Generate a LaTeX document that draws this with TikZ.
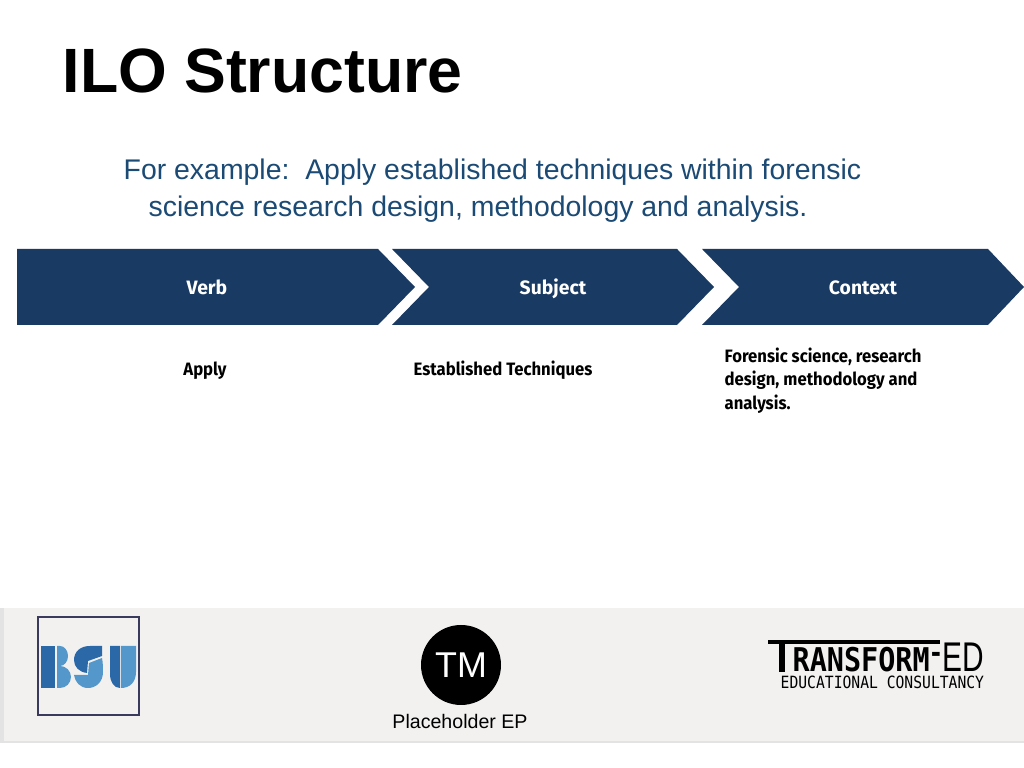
\documentclass[tikz,border=0pt]{standalone}
\usepackage{fontspec}
\setmainfont{Liberation Sans}
\newfontfamily\labelfont{Fira Sans}
\newfontfamily\cellfont[FakeStretch=.93]{Fira Sans}
\newfontfamily\logofont[FakeStretch=.87]{DejaVu Sans Mono}
\newfontfamily\edfont[FakeStretch=.72]{Liberation Sans}
\definecolor{chevblue}{HTML}{193A63}
\definecolor{textblue}{HTML}{1B4A75}
\definecolor{footgrey}{HTML}{F2F1F0}
\definecolor{bsudark}{HTML}{2B68A8}
\definecolor{bsulight}{HTML}{5497CB}
\definecolor{bsuframe}{HTML}{3A3A5C}
\tikzset{
  titletext/.style={anchor=base west,inner sep=0,font=\fontsize{17.8}{20}\selectfont\bfseries},
  bodytext/.style={anchor=base west,inner sep=0,text=textblue,font=\fontsize{8.08}{10}\selectfont},
  headtext/.style={anchor=base,inner sep=0,text=white,font=\labelfont\fontsize{5.5}{7}\selectfont\bfseries},
  celltext/.style={anchor=base,inner sep=0,font=\cellfont\fontsize{5.1}{6.7}\selectfont\bfseries},
}
\begin{document}
\begin{tikzpicture}[x=.01cm,y=-.01cm]
\useasboundingbox (0,0) rectangle (1024,768);

\fill[white] (0,0) rectangle (1024,768);

\node[titletext] (title) at (62,93) {ILO Structure};
\node[bodytext] (lineone) at (123,180) {For example:\ \ Apply established techniques within forensic};
\node[bodytext] (linetwo) at (148,217) {science research design, methodology and analysis.};

\fill[chevblue] (17,249) -- (378,249) -- (415,287) -- (378,325) -- (17,325) -- cycle;
\fill[chevblue] (392,249) -- (677,249) -- (714,287) -- (677,325) -- (392,325) -- (429,287) -- cycle;
\fill[chevblue] (702,249) -- (988,249) -- (1024,287) -- (988,325) -- (702,325) -- (739,287) -- cycle;

\node[headtext] (verb) at (207,295) {Verb};
\node[headtext] (subject) at (553,295) {Subject};
\node[headtext] (context) at (863,295) {Context};

\node[celltext] (apply) at (205,376) {Apply};
\node[celltext] (techniques) at (503,376) {Established Techniques};
\node[celltext,anchor=north west,align=left] (forensic) at (724,347) {Forensic science, research\\design, methodology and\\analysis.};

% footer band
\fill[footgrey] (0,608) rectangle (1024,741);
\fill[black!11] (0,608) rectangle (4,741);
\fill[black!11] (0,741) rectangle (1024,743);

% bsu logo
\draw[line width=.37pt,bsuframe] (38,617) rectangle (139,715);
\fill[bsudark] (41,646) rectangle (55,688);
\fill[bsulight] (57,646) -- (60,646) arc (-90:90:8 and 10) arc (-90:90:11 and 11) -- (57,688) -- cycle;
\fill[bsudark] (102,646) -- (90,646) .. controls (80,646) and (74,652) .. (74,660) .. controls (74,667) and (79,672) .. (87,673) -- (88,661) -- (102,656) -- cycle;
\fill[bsulight] (74,675) -- (88,675) -- (89,663) -- (102,658) .. controls (103,663) and (103,668) .. (103,672) .. controls (103,682) and (96,688) .. (88,688) .. controls (80,688) and (75,682) .. (74,675);
\fill[bsudark] (110,646) -- (120,646) -- (120,688) .. controls (114,688) and (110,682) .. (110,674) -- cycle;
\fill[bsulight] (121,646) -- (136,646) -- (136,672) .. controls (136,682) and (130,688) .. (121,688) -- cycle;

% tm logo
\fill[black] (461,665) circle (40);
\node[inner sep=0,text=white,font=\fontsize{10.2}{12}\selectfont] (tm) at (461,665) {TM};
\node[anchor=base,inner sep=0,font=\fontsize{5.57}{7}\selectfont] (placeholder) at (460,729) {Placeholder EP};

% transform-ed logo
\draw[line width=.9pt] (768,642) -- (940,642);
\draw[line width=1.5pt] (782,642) -- (782,672);
\node[anchor=base west,inner sep=0,font=\logofont\fontsize{9.3}{10}\selectfont\bfseries] (transform) at (792,672) {RANSFORM};
\node[anchor=base,inner sep=0,font=\logofont\fontsize{8}{10}\selectfont\bfseries] (hyphen) at (936,663) {-};
\node[anchor=base west,inner sep=0,font=\edfont\fontsize{11.8}{14}\selectfont] (ed) at (942,672) {ED};
\node[anchor=base west,inner sep=0,font=\logofont\fontsize{4.8}{7}\selectfont] (consult) at (780,689) {EDUCATIONAL CONSULTANCY};

\end{tikzpicture}
\end{document}
